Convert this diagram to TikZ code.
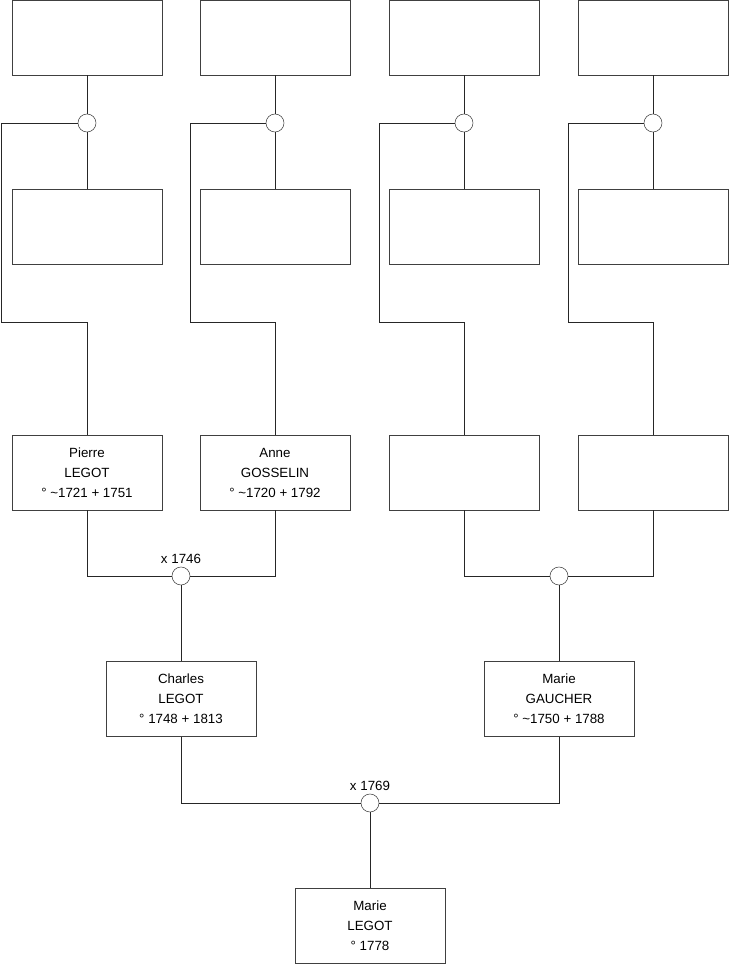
\documentclass[tikz,border=0pt]{standalone}
\usepackage{fontspec}
\setmainfont{Liberation Sans}
\usetikzlibrary{positioning}
\tikzset{
	personnode/.style={
			rectangle,
			draw=black!75,
			fill=white,
			minimum width=112.5pt,
			minimum height=56.25pt,
			inner sep=0pt,
			align=center,
			font=\fontsize{10}{15}\selectfont
		},
	unionnode/.style={
			circle,
			draw=black!75,
			fill=white,
			minimum size=13.5pt,
			inner sep=0pt
		},
	datenode/.style={
			inner sep=2pt,
			font=\fontsize{10}{12}\selectfont
		},
	linknode/.style={
			draw=black!85,
			line width=0.6pt
		}
}

\begin{document}
\begin{tikzpicture}[x=0.75pt, y=-0.75pt]
\useasboundingbox (0,0) rectangle (740,975);

% top generation
\node[personnode] (t1) at (87,37.5)  {};
\node[personnode] (t2) at (275,37.5)  {};
\node[personnode] (t3) at (464,37.5)  {};
\node[personnode] (t4) at (653,37.5)  {};

\node[unionnode] (u1) at (87,123)  {};
\node[unionnode] (u2) at (275,123)  {};
\node[unionnode] (u3) at (464,123)  {};
\node[unionnode] (u4) at (653,123)  {};

\node[personnode] (m1) at (87,227)  {};
\node[personnode] (m2) at (275,227)  {};
\node[personnode] (m3) at (464,227)  {};
\node[personnode] (m4) at (653,227)  {};

% grandparents
\node[personnode] (p1) at (87,472.5)  {Pierre\\LEGOT\\° \char`~1721 + 1751};
\node[personnode] (p2) at (275,472.5)  {Anne\\GOSSELIN\\° \char`~1720 + 1792};
\node[personnode] (p3) at (464,472.5)  {};
\node[personnode] (p4) at (653,472.5)  {};

\node[unionnode, label={[datenode]above:x 1746}] (w1) at (181,576)  {};
\node[unionnode] (w2) at (559,576)  {};

% parents
\node[personnode] (c1) at (181,699)  {Charles\\LEGOT\\° 1748 + 1813};
\node[personnode] (c2) at (559,699)  {Marie\\GAUCHER\\° \char`~1750 + 1788};

\node[unionnode, label={[datenode]above:x 1769}] (w3) at (370,803)  {};

\node[personnode] (e1) at (370,926)  {Marie\\LEGOT\\° 1778};

% corners
\coordinate (k1) at (1,322);
\coordinate (k2) at (190,322);
\coordinate (k3) at (379,322);
\coordinate (k4) at (568,322);

\foreach \i in {1,2,3,4} {
	\draw[linknode] (t\i) -- (u\i);
	\draw[linknode] (u\i) -- (m\i);
	\draw[linknode] (u\i.west) -| (k\i) -| (p\i.north);
}

\draw[linknode] (p1.south) |- (w1.west);
\draw[linknode] (p2.south) |- (w1.east);
\draw[linknode] (p3.south) |- (w2.west);
\draw[linknode] (p4.south) |- (w2.east);

\draw[linknode] (w1) -- (c1);
\draw[linknode] (w2) -- (c2);

\draw[linknode] (c1.south) |- (w3.west);
\draw[linknode] (c2.south) |- (w3.east);
\draw[linknode] (w3) -- (e1);

\end{tikzpicture}
\end{document}
